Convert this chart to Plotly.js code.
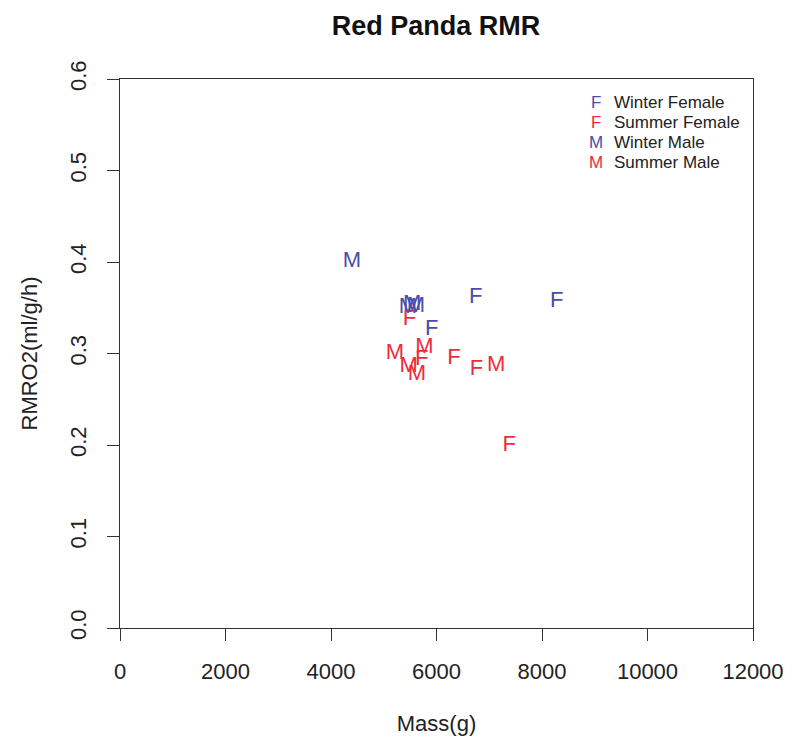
<!DOCTYPE html>
<html>
<head>
<meta charset="utf-8">
<script src="https://cdn.plot.ly/plotly-3.0.1.min.js"></script>
<style>html,body{margin:0;padding:0;background:#fff;}#chart{width:786px;height:736px;}</style>
</head>
<body>
<div id="chart"></div>
<script>
// Data
var winterFemaleMass = [5910, 6745, 8280];
var winterFemaleRMR  = [0.326, 0.361, 0.357];
var summerFemaleMass = [5490, 5720, 6330, 6760, 7380];
var summerFemaleRMR  = [0.337, 0.293, 0.295, 0.283, 0.200];
var winterMaleMass   = [4395, 5460, 5540, 5610];
var winterMaleRMR    = [0.401, 0.350, 0.354, 0.351];
var summerMaleMass   = [5210, 5470, 5630, 5770, 7130];
var summerMaleRMR    = [0.300, 0.286, 0.277, 0.307, 0.287];

var legendLetters = ['F', 'F', 'M', 'M'];
var legendLabels  = ['Winter Female', 'Summer Female', 'Winter Male', 'Summer Male'];

var xTicks = [0, 2000, 4000, 6000, 8000, 10000, 12000];
var yTicks = [0.0, 0.1, 0.2, 0.3, 0.4, 0.5, 0.6];

var BLUE = '#4a4cad';
var RED = '#ee2b3b';
var FONT = 'Liberation Sans, Arial, Helvetica, sans-serif';
var legendColors = [BLUE, RED, BLUE, RED];

function textTrace(xs, ys, letter, color, name) {
  return {
    type: 'scatter', mode: 'text', name: name,
    x: xs, y: ys,
    text: xs.map(function () { return letter; }),
    textposition: 'middle center',
    textfont: {family: FONT, size: 22, color: color},
    showlegend: false, hoverinfo: 'x+y+name'
  };
}

var data = [
  textTrace(winterFemaleMass, winterFemaleRMR, 'F', BLUE, 'Winter Female'),
  textTrace(summerFemaleMass, summerFemaleRMR, 'F', RED, 'Summer Female'),
  textTrace(winterMaleMass, winterMaleRMR, 'M', BLUE, 'Winter Male'),
  textTrace(summerMaleMass, summerMaleRMR, 'M', RED, 'Summer Male')
];

// legend drawn as annotations (letter + label)
var L = 120, T = 79, W = 633, H = 549.3;
var annotations = [];
for (var i = 0; i < legendLabels.length; i++) {
  var py = 102.3 + 20 * i;
  var yp = 1 - (py - T) / H;
  annotations.push({
    xref: 'paper', yref: 'paper', x: (596 - L) / W, y: yp,
    xanchor: 'center', yanchor: 'middle', showarrow: false,
    text: legendLetters[i], font: {family: FONT, size: 17, color: legendColors[i]}
  });
  annotations.push({
    xref: 'paper', yref: 'paper', x: (612 - L) / W, y: yp,
    xanchor: 'left', yanchor: 'middle', showarrow: false,
    text: legendLabels[i], font: {family: FONT, size: 17, color: '#222222'}
  });
}

var layout = {
  width: 786, height: 736,
  margin: {l: 120, r: 33, t: 79, b: 108, pad: 0},
  paper_bgcolor: '#ffffff', plot_bgcolor: '#ffffff',
  font: {family: FONT, color: '#222222'},
  title: {
    text: '<b>Red Panda RMR</b>',
    font: {family: FONT, size: 27, color: '#111111'},
    x: 436 / 786, xref: 'container', xanchor: 'center',
    y: 1 - 26 / 736, yref: 'container', yanchor: 'middle'
  },
  xaxis: {
    range: [0, 12000], tickvals: xTicks, tickformat: 'd',
    showgrid: false, zeroline: false,
    showline: true, mirror: true, linecolor: '#333333', linewidth: 1,
    ticks: 'outside', ticklen: 12, tickwidth: 1, tickcolor: '#333333',
    ticklabelstandoff: 12,
    tickfont: {family: FONT, size: 22, color: '#222222'},
    title: {text: 'Mass(g)', font: {family: FONT, size: 22, color: '#222222'}, standoff: 34}
  },
  yaxis: {
    range: [0, 0.6], tickvals: yTicks, tickformat: '.1f', tickangle: -90,
    showgrid: false, zeroline: false,
    showline: true, mirror: true, linecolor: '#333333', linewidth: 1,
    ticks: 'outside', ticklen: 12, tickwidth: 1, tickcolor: '#333333',
    ticklabelstandoff: 12,
    tickfont: {family: FONT, size: 22, color: '#222222'},
    title: {text: 'RMRO2(ml/g/h)', font: {family: FONT, size: 22, color: '#222222'}, standoff: 22}
  },
  annotations: annotations
};

Plotly.newPlot('chart', data, layout, {displayModeBar: false, staticPlot: true});
</script>
</body>
</html>
